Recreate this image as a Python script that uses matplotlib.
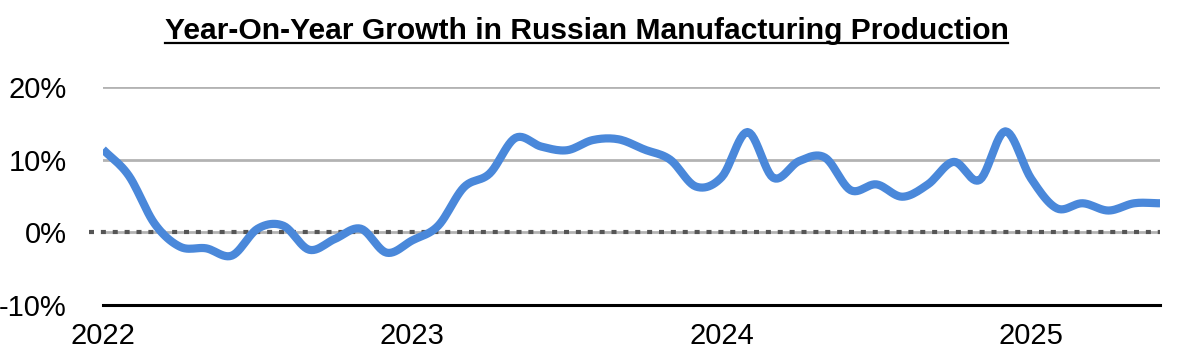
import numpy as np
import matplotlib
matplotlib.use("Agg")
import matplotlib.pyplot as plt
from matplotlib.lines import Line2D

# Monthly YoY growth (%), Jan 2022 .. Jun 2025
growth = [
    11.4, 7.8, 1.2, -2.0, -2.2, -3.2, 0.5, 0.9, -2.4, -0.9, 0.5, -2.8,   # 2022
    -1.1, 0.9, 6.2, 8.1, 13.0, 11.8, 11.3, 12.7, 12.8, 11.4, 10.0, 6.3,  # 2023
    7.6, 13.8, 7.5, 9.8, 10.3, 5.8, 6.6, 4.9, 6.6, 9.7, 7.2, 13.9,       # 2024
    7.4, 3.3, 4.0, 3.0, 4.0, 4.0,                                        # 2025
]
year_labels = ["2022", "2023", "2024", "2025"]
y_ticks = [-10, 0, 10, 20]

months = np.arange(len(growth))
vals = np.array(growth)

# Catmull-Rom smoothing for display only (Excel-style smoothed line)
def smooth(x, y, n=12):
    xp = np.concatenate([[2 * x[0] - x[1]], x, [2 * x[-1] - x[-2]]])
    yp = np.concatenate([[2 * y[0] - y[1]], y, [2 * y[-1] - y[-2]]])
    xs, ys = [], []
    t = np.linspace(0, 1, n, endpoint=False)
    for i in range(1, len(xp) - 2):
        for arr, out in ((xp, xs), (yp, ys)):
            p0, p1, p2, p3 = arr[i - 1:i + 3]
            out.extend(0.5 * ((2 * p1) + (-p0 + p2) * t
                              + (2 * p0 - 5 * p1 + 4 * p2 - p3) * t ** 2
                              + (-p0 + 3 * p1 - 3 * p2 + p3) * t ** 3))
    xs.append(x[-1]); ys.append(y[-1])
    return np.array(xs), np.array(ys)

plt.rcParams['font.family'] = ['Liberation Sans', 'DejaVu Sans']

fig = plt.figure(figsize=(11.8, 3.58), dpi=100)
ax = fig.add_axes([103 / 1180, 1 - 305 / 358, (1160 - 103) / 1180, (305 - 87) / 358])

for v in (0, 10, 20):
    ax.axhline(v, color="#b3b3b3", lw=2, zorder=1)
# dotted zero line, slightly extended to the left
ax.plot([-0.013, 1], [0, 0], transform=ax.get_yaxis_transform(), clip_on=False,
        color="#555555", lw=3, dashes=(1.2, 1.65), zorder=2)

sx, sy = smooth(months.astype(float), vals)
ax.plot(sx, sy, color="#4a88da", lw=5.9, solid_capstyle="butt", zorder=3)

ax.set_xlim(0, len(growth) - 1)
ax.set_ylim(-10, 20)
ax.set_yticks(y_ticks)
ax.set_yticklabels([f"{v}%" for v in y_ticks])
ax.set_xticks(np.arange(len(year_labels)) * 12)
ax.set_xticklabels(year_labels)
ax.tick_params(length=0, labelsize=21, colors="black")
ax.tick_params(axis="y", pad=26)
ax.tick_params(axis="x", pad=12)
for s in ("top", "right", "left"):
    ax.spines[s].set_visible(False)
ax.spines["bottom"].set_linewidth(2.2)
ax.spines["bottom"].set_color("black")

title = fig.text(0.497, 1 - 39 / 358, "Year-On-Year Growth in Russian Manufacturing Production",
                 ha="center", va="baseline", fontsize=21.6, fontweight="bold")
fig.canvas.draw()
bb = title.get_window_extent()
uy = 1 - 42.5 / 358
fig.add_artist(Line2D([bb.x0 / 1180, bb.x1 / 1180], [uy, uy], color="black", lw=1.6))

fig.savefig("out.png", dpi=100)
